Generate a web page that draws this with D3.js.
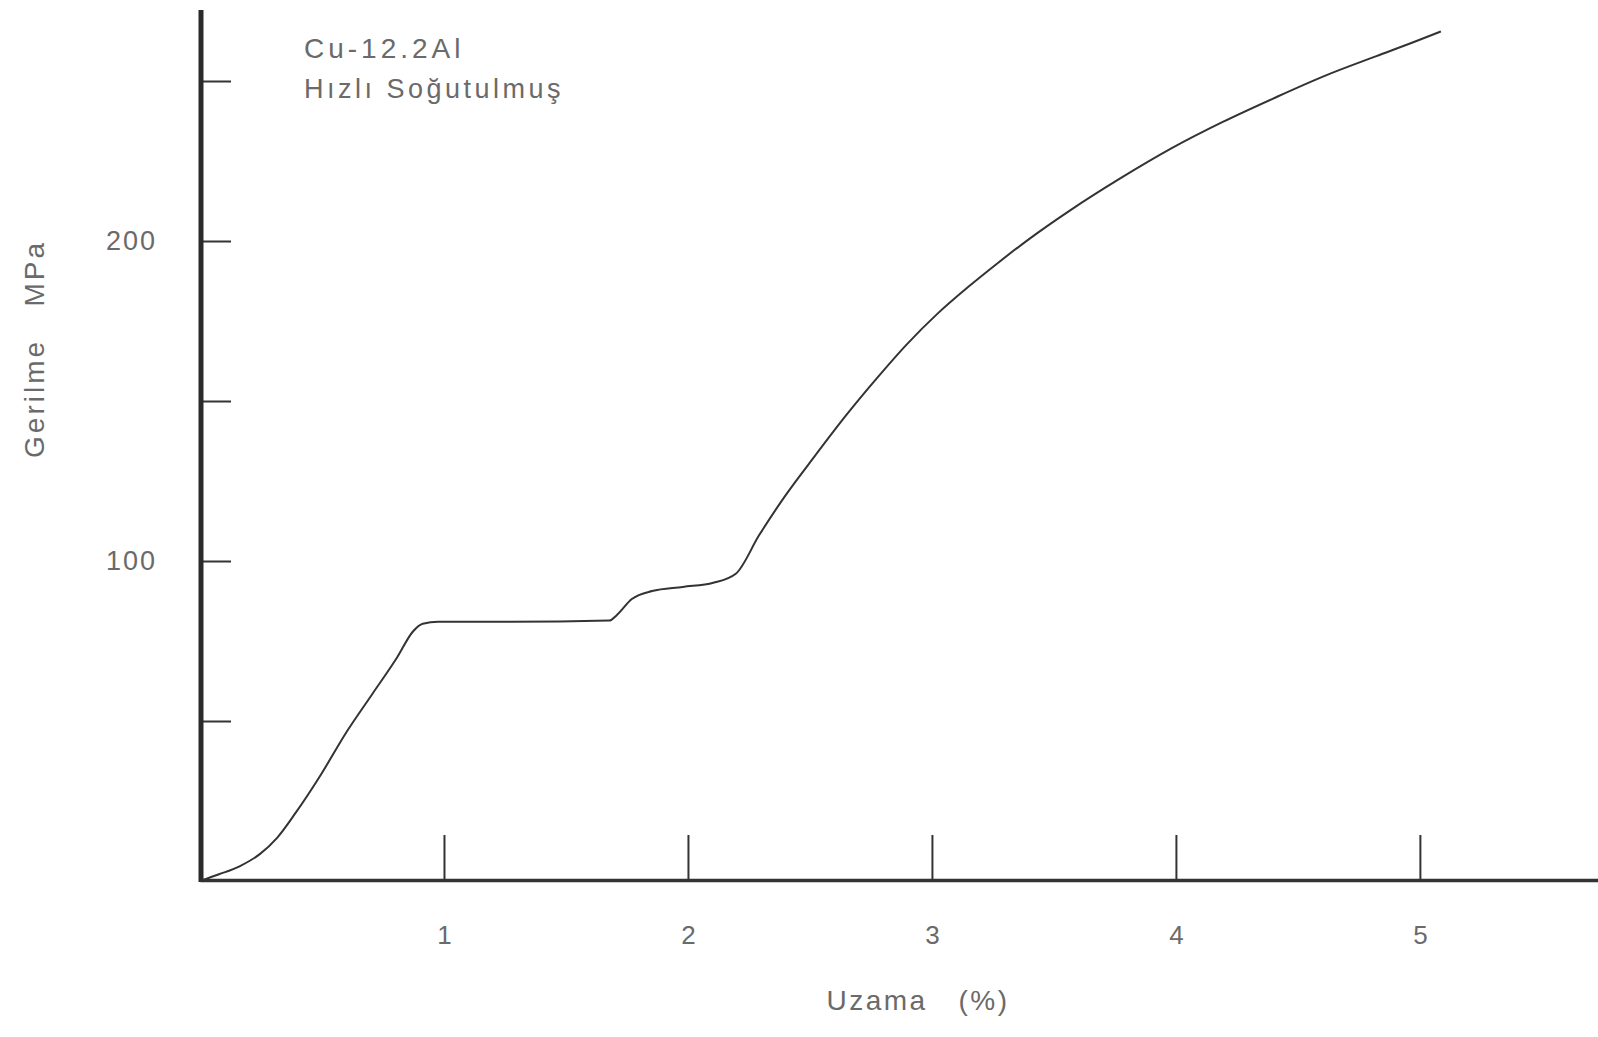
<!DOCTYPE html>
<html>
<head>
<meta charset="utf-8">
<script src="https://cdn.jsdelivr.net/npm/d3@7"></script>
<style>
  body { margin: 0; background: #fff; }
  text { font-family: "Liberation Sans", Arial, sans-serif; fill: #6a6a6a; white-space: pre; }
</style>
</head>
<body>
<svg id="chart" width="1598" height="1037"></svg>
<script>
// strain (%) and stress (MPa)
const strain = [0, 0.078, 0.162, 0.245, 0.316, 0.391, 0.496, 0.600, 0.705, 0.809, 0.872, 0.913, 0.976,
    1.269, 1.678, 1.707, 1.770, 1.853, 1.979, 2.104, 2.196, 2.292, 2.397, 2.522, 2.647, 2.772,
    2.897, 3.023, 3.148, 3.273, 3.398, 3.565, 3.775, 3.983, 4.192, 4.401, 4.610, 4.819, 4.986, 5.086];
const stress = [0, 2.1, 4.6, 8.4, 13.5, 21.2, 33.3, 46.5, 58.3, 70.0, 77.9, 80.4, 81.0,
    81.0, 81.4, 83.0, 88.1, 90.6, 91.9, 93.2, 96.0, 108.1, 120.2, 133.0, 145.4, 156.9,
    167.7, 177.3, 185.6, 193.3, 200.6, 209.5, 219.7, 229.0, 237.2, 244.6, 251.6, 257.7, 262.5, 265.5];
const xTicks = [1, 2, 3, 4, 5];
const yTicks = [50, 100, 150, 200, 250];
const yLabelled = [100, 200];

const svg = d3.select("#chart");

const x = d3.scaleLinear().domain([0, 5.73]).range([200, 1598]);
const y = d3.scaleLinear().domain([0, 250]).range([881, 81]);

// x axis
const xAxis = svg.append("g")
    .attr("transform", "translate(0,880)")
    .call(d3.axisBottom(x).tickValues(xTicks).tickFormat(d3.format("d"))
        .tickSizeInner(-45).tickSizeOuter(0).tickPadding(46));
xAxis.select(".domain").attr("stroke", "#333").attr("stroke-width", 3.5);
xAxis.selectAll(".tick line").attr("stroke", "#333").attr("stroke-width", 2);
xAxis.selectAll(".tick text").style("font-size", "26px").style("fill", "#6a6a6a");

// y axis
const yAxis = svg.append("g")
    .attr("transform", "translate(201,0)")
    .call(d3.axisLeft(y).tickValues(yTicks).tickSizeInner(-30).tickSizeOuter(0).tickPadding(44)
        .tickFormat(d => yLabelled.includes(d) ? d : ""));
yAxis.select(".domain").remove();
yAxis.selectAll(".tick line").attr("stroke", "#333").attr("stroke-width", 2);
yAxis.selectAll(".tick text").style("font-size", "27px").style("fill", "#6a6a6a").attr("letter-spacing", 2);

svg.append("line")
    .attr("x1", 201).attr("x2", 201)
    .attr("y1", 10).attr("y2", 882)
    .attr("stroke", "#2a2a2a").attr("stroke-width", 5);

// curve
const pts = strain.map((s, i) => [s, stress[i]]);
svg.append("path")
    .datum(pts)
    .attr("fill", "none")
    .attr("stroke", "#333")
    .attr("stroke-width", 2)
    .attr("d", d3.line().x(d => x(d[0])).y(d => y(d[1])).curve(d3.curveMonotoneX));

// labels
svg.append("text")
    .attr("x", 304).attr("y", 58)
    .attr("letter-spacing", 4)
    .style("font-size", "28px")
    .text("Cu-12.2Al");
svg.append("text")
    .attr("x", 304).attr("y", 98)
    .attr("letter-spacing", 3.5)
    .style("font-size", "27px")
    .text("Hızlı Soğutulmuş");

svg.append("text")
    .attr("x", 918).attr("y", 1010)
    .attr("text-anchor", "middle")
    .attr("letter-spacing", 2.5)
    .style("font-size", "28px")
    .text("Uzama   (%)");

svg.append("text")
    .attr("transform", "translate(44,349) rotate(-90)")
    .attr("text-anchor", "middle")
    .attr("letter-spacing", 3)
    .style("font-size", "28px")
    .text("Gerilme   MPa");
</script>
</body>
</html>
